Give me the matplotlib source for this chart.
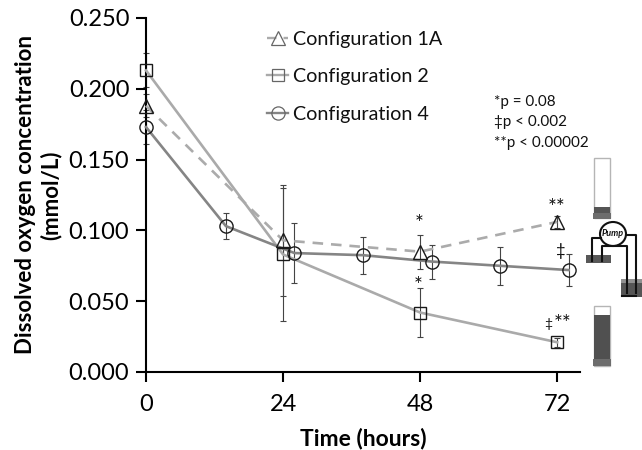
import matplotlib
matplotlib.use("Agg")
import matplotlib.pyplot as plt
from matplotlib.patches import Rectangle, Ellipse
from matplotlib.lines import Line2D

plt.rcParams['font.family'] = ['Lato', 'DejaVu Sans']

W, H = 642, 450
hours_1a = [0, 24, 48, 72]
conc_1a = [0.188, 0.093, 0.085, 0.106]
err_1a = [0.008, 0.039, 0.012, 0.004]
hours_2 = [0, 24, 48, 72]
conc_2 = [0.213, 0.083, 0.042, 0.021]
err_2 = [0.012, 0.047, 0.017, 0.003]
hours_4 = [0, 14, 26, 38, 50, 62, 74]
conc_4 = [0.173, 0.103, 0.084, 0.0825, 0.078, 0.075, 0.072]
err_4 = [0.012, 0.009, 0.021, 0.013, 0.012, 0.0135, 0.011]
x_ticks = [0, 24, 48, 72]
y_ticks = [0.0, 0.05, 0.10, 0.15, 0.20, 0.25]

fig = plt.figure(figsize=(W / 100, H / 100), dpi=100, facecolor='white')
ax = fig.add_axes([146 / W, 1 - 372 / H, (580 - 146) / W, (372 - 18) / H])
ax.set_xlim(0, 76)
ax.set_ylim(0, 0.25)

series = [
    (hours_1a, conc_1a, err_1a, '#ababab', (0, (4, 3)), '^', 'Configuration 1A', 9.5),
    (hours_2, conc_2, err_2, '#aaaaaa', '-', 's', 'Configuration 2', 9.3),
    (hours_4, conc_4, err_4, '#858585', '-', 'o', 'Configuration 4', 9.5),
]
for xs, ys, es, color, ls, marker, label, ms in series:
    ax.errorbar(xs, ys, yerr=es, fmt='none', ecolor='#444444', elinewidth=0.8,
                capsize=2.5, capthick=0.8, clip_on=False, zorder=2)
    ax.plot(xs, ys, color=color, linestyle=ls, linewidth=1.9, zorder=3, clip_on=False)
    ax.plot(xs, ys, linestyle='none', marker=marker, markersize=ms, markerfacecolor='none',
            markeredgecolor='#1a1a1a', markeredgewidth=1.0, zorder=4, clip_on=False)

handles = [Line2D([], [], color=c, linestyle=l, linewidth=1.7, marker=m, markersize=s,
                  markerfacecolor='none', markeredgecolor='#666666', markeredgewidth=0.9, label=t)
           for _, _, _, c, l, m, t, s in series]
ax.legend(handles=handles, loc='upper left', bbox_to_anchor=((249 - 146) / 434, 1.0 + 5 / 354),
          frameon=False, fontsize=14.2, handlelength=1.1, handletextpad=0.25,
          labelspacing=1.04, borderpad=0.4, labelcolor='#111111')

for s in ['top', 'right']:
    ax.spines[s].set_visible(False)
for s in ['left', 'bottom']:
    ax.spines[s].set_linewidth(1.5)
    ax.spines[s].set_color('black')
ax.set_xticks(x_ticks)
ax.set_xticklabels([str(v) for v in x_ticks])
ax.set_yticks(y_ticks)
ax.set_yticklabels([f'{v:.3f}' for v in y_ticks])
ax.tick_params(axis='both', direction='out', length=7, width=1.5, labelsize=17, colors='black')
ax.tick_params(axis='x', pad=9)
ax.tick_params(axis='y', pad=5)
ax.set_xlabel('Time (hours)', fontsize=16.5, fontweight='bold', labelpad=9)
ax.set_ylabel('Dissolved oxygen concentration\n(mmol/L)', fontsize=16, fontweight='bold',
              labelpad=5, linespacing=1.22)

def px(x, y):
    return x / W, 1 - y / H

def t(x, y, s, size=11, **kw):
    fx, fy = px(x, y)
    fig.text(fx, fy, s, fontsize=size, ha=kw.pop('ha', 'left'), va='center', color='#111111', **kw)

t(494, 102, '*p = 0.08', 11)
t(494, 122, '‡p < 0.002', 11)
t(494, 143, '**p < 0.00002', 11)
t(419, 224, '*', 15, ha='center')
t(418, 286, '*', 15, ha='center')
t(557, 208, '**', 15, ha='center')
t(561, 251, '‡', 12, ha='center')
t(548, 324, '‡', 10, ha='center')
t(563, 324, '**', 15, ha='center')

def rect(x0, y0, x1, y1, fc='none', ec='none', lw=1.0):
    fig.add_artist(Rectangle(px(x0, y1), (x1 - x0) / W, (y1 - y0) / H, transform=fig.transFigure,
                             facecolor=fc, edgecolor=ec, linewidth=lw))

def pipe(xs, ys, lw=1.5):
    pts = [px(a, b) for a, b in zip(xs, ys)]
    fig.add_artist(Line2D([p[0] for p in pts], [p[1] for p in pts], transform=fig.transFigure,
                          color='#111111', linewidth=lw))

# icon: top tube
rect(594, 158, 610, 218, fc='white', ec='#b5b5b5', lw=1.0)
rect(594, 207, 610, 214, fc='#555555')
rect(593, 213, 611, 219, fc='#6d6d6d')
# icon: pump reservoirs and tubing
rect(586, 255, 611, 263, fc='#585858')
rect(621, 281, 642, 297, fc='#555555')
rect(621, 279, 642, 283, fc='#909090')
pipe([592, 592, 601], [261, 238, 238])
pipe([602, 602, 627, 627], [261, 246, 246, 293])
pipe([626, 636, 636], [235, 235, 293])
pipe([622, 636], [296, 296])
fig.add_artist(Ellipse(px(613, 234), 26 / W, 24 / H, transform=fig.transFigure, facecolor='white',
                       edgecolor='#111111', linewidth=1.5))
t(613, 234, 'Pump', 6.5, ha='center', fontweight='bold', style='italic')
# icon: bottom tube
rect(594, 306, 610, 366, fc='white', ec='#b5b5b5', lw=1.0)
rect(594, 315, 610, 360, fc='#505050')
rect(593, 359, 611, 366, fc='#6d6d6d')

fig.savefig('out.png', dpi=100, facecolor='white')
